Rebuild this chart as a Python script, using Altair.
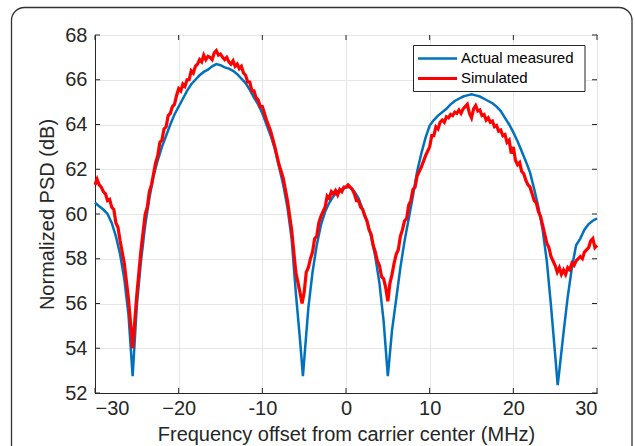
import altair as alt
import pandas as pd

# ---- data ----
blue_f = [-30, -29.5, -29, -28.5, -28, -27.5, -27, -26.5, -26, -25.5, -25, -24.5, -24, -23.5, -23,
          -22.5, -22, -21.5, -21, -20.5, -20, -19.5, -19, -18.5, -18, -17.5, -17, -16.5, -16, -15.5,
          -15, -14.5, -14, -13.5, -13, -12.5, -12, -11.5, -11, -10.5, -10, -9.5, -9, -8.5, -8, -7.5,
          -7, -6.5, -6, -5.5, -5.15, -4.5, -4, -3.5, -3, -2.5, -2, -1.5, -1, -0.5, 0, 0.5, 1, 1.5,
          2, 2.5, 3, 3.5, 4, 4.5, 5, 5.5, 6, 6.5, 7, 7.5, 8, 8.5, 9, 9.5, 10, 10.5, 11, 11.5, 12,
          12.5, 13, 13.5, 14, 14.5, 15, 15.5, 16, 16.5, 17, 17.5, 18, 18.5, 19, 19.5, 20, 20.5, 21,
          21.5, 22, 22.5, 23, 23.5, 24, 24.5, 25, 25.3, 25.5, 26, 26.5, 27, 27.5, 28, 28.5, 29,
          29.5, 30]
blue_v = [60.5, 60.35, 60.2, 60.0, 59.6, 59.0, 58.2, 57.1, 55.5, 52.75, 55.9, 57.9, 59.5, 60.7, 61.7,
          62.4, 63.0, 63.5, 64.0, 64.45, 64.8, 65.15, 65.5, 65.8, 66.0, 66.2, 66.35, 66.45, 66.6, 66.7,
          66.65, 66.55, 66.5, 66.4, 66.25, 66.05, 65.85, 65.55, 65.2, 64.9, 64.5, 64.0, 63.5, 62.9,
          62.1, 61.3, 60.3, 58.9, 56.5, 54.4, 52.75, 55.8, 57.4, 58.6, 59.5, 60.1, 60.5, 60.8, 61.0,
          61.1, 61.2, 61.2, 61.0, 60.7, 60.2, 59.7, 59.0, 58.1, 56.9, 55.2, 52.75, 54.8, 56.2, 57.6,
          58.8, 59.8, 60.8, 61.9, 62.7, 63.4, 63.95, 64.2, 64.4, 64.55, 64.7, 64.9, 65.05, 65.15,
          65.25, 65.3, 65.35, 65.3, 65.25, 65.15, 65.05, 64.95, 64.8, 64.6, 64.3, 64.0, 63.65, 63.25,
          62.8, 62.35, 61.85, 61.1, 60.3, 59.3, 57.9, 55.9, 53.7, 52.35, 53.0, 54.7, 56.3, 57.6,
          58.6, 58.9, 59.3, 59.55, 59.7, 59.8]

red_f = [-30, -29.75, -29.5, -29.25, -29, -28.75, -28.5, -28.25, -28, -27.75, -27.5, -27.25, -27,
         -26.5, -26, -25.5, -25, -24.5, -24, -23.75, -23.5, -23.25, -23, -22.75, -22.5, -22.25, -22,
         -21.75, -21.5, -21.25, -21, -20.75, -20.5, -20.25, -20, -19.75, -19.5, -19.25, -19, -18.75,
         -18.5, -18.25, -18, -17.75, -17.5, -17.25, -17, -16.75, -16.5, -16.25, -16, -15.75, -15.5,
         -15.25, -15, -14.75, -14.5, -14.25, -14, -13.75, -13.5, -13.25, -13, -12.75, -12.5, -12.25,
         -12, -11.75, -11.5, -11.25, -11, -10.75, -10.5, -10.25, -10, -9.5, -9, -8.5, -8, -7.5, -7,
         -6.5, -6, -5.5, -5.25, -5, -4.75, -4.5, -4.25, -4, -3.75, -3.5, -3.25, -3, -2.75, -2.5,
         -2.25, -2, -1.75, -1.5, -1.25, -1, -0.75, -0.5, -0.25, 0, 0.25, 0.5, 0.75, 1, 1.25, 1.5,
         1.75, 2, 2.25, 2.5, 2.75, 3, 3.25, 3.5, 3.75, 4, 4.25, 4.5, 4.75, 5, 5.25, 5.5, 5.75, 6,
         6.25, 6.5, 6.75, 7, 7.25, 7.5, 7.75, 8, 8.25, 8.5, 8.75, 9, 9.5, 10, 10.25, 10.5, 10.75, 11,
         11.25, 11.5, 11.75, 12, 12.25, 12.5, 12.75, 13, 13.25, 13.5, 13.75, 14, 14.25, 14.5, 14.75,
         15, 15.25, 15.5, 15.75, 16, 16.25, 16.5, 16.75, 17, 17.25, 17.5, 17.75, 18, 18.25, 18.5,
         18.75, 19, 19.25, 19.5, 19.75, 20, 20.25, 20.5, 20.75, 21, 21.25, 21.5, 21.75, 22, 22.25,
         22.5, 22.75, 23, 23.25, 23.5, 23.75, 24, 24.25, 24.5, 24.75, 25, 25.25, 25.5, 25.75, 26,
         26.25, 26.5, 26.75, 27, 27.25, 27.5, 27.75, 28, 28.25, 28.5, 28.75, 29, 29.25, 29.5, 29.75,
         30]
red_v = [61.3, 61.55, 61.3, 61.2, 61.0, 60.9, 60.6, 60.65, 60.3, 60.2, 59.6, 59.4, 58.8,
         57.8, 56.2, 54.0, 56.4, 58.4, 60.0, 60.3, 61.0, 61.3, 61.8, 62.3, 62.6, 63.2, 63.3,
         63.8, 63.9, 64.4, 64.5, 64.8, 64.9, 65.3, 65.6, 65.5, 65.8, 65.7, 66.0, 66.0,
         66.4, 66.3, 66.6, 66.7, 66.9, 66.8, 67.1, 66.9, 67.05, 67.0, 66.9, 67.2, 67.3,
         67.1, 67.15, 67.0, 66.9, 67.0, 66.8, 66.7, 66.85, 66.6, 66.7, 66.5, 66.6, 66.3,
         66.2, 65.9, 65.9, 65.5, 65.5, 65.2, 65.1, 64.8, 64.8, 64.2, 63.7, 63.0, 62.2, 61.6, 60.6,
         59.3, 57.4, 56.5, 56.0, 56.5, 57.4, 57.6, 58.0, 58.3, 58.9, 59.0, 59.6, 59.9, 60.1, 60.3,
         60.8, 60.7, 61.0, 60.9, 61.05, 60.85, 61.1, 61.0, 61.2, 61.2, 61.3, 61.2, 61.1, 60.9, 60.6, 60.6,
         60.3, 60.2, 59.9, 59.7, 59.3, 59.1, 58.6, 58.3, 57.9, 57.7, 57.2, 57.1, 56.7, 56.1, 56.9, 57.3, 57.8, 58.2,
         58.4, 59.0, 59.3, 59.7, 59.8, 60.4, 60.6, 61.1, 61.2, 61.7, 61.9, 62.1, 62.6, 63.0, 63.5, 63.5, 63.9, 63.8,
         64.1, 64.2, 64.1, 64.35, 64.3, 64.45, 64.4, 64.55, 64.5, 64.65, 64.5, 64.7, 64.8, 64.9, 64.5,
         64.3, 64.7, 64.85, 64.6, 64.65, 64.4, 64.45, 64.2, 64.3, 64.1, 64.15, 63.9, 63.95, 63.7, 63.75,
         63.5, 63.55, 63.2, 63.3, 62.7, 63.0, 62.4, 62.2, 62.3, 61.9, 61.8, 61.5, 61.3, 61.2, 60.9,
         60.6, 60.5, 60.1, 59.9, 59.5, 59.1, 58.7, 58.5, 58.1, 57.9, 57.7, 57.4, 57.6, 57.3, 57.5,
         57.3, 57.6, 57.5, 57.8, 57.7, 57.9, 58.0, 58.1, 58.0, 58.3, 58.4, 58.5, 58.8, 58.9, 58.5,
         58.6]

series_names = ["Actual measured", "Simulated"]
series_colors = ["#0072BD", "#FF0000"]
x_ticks = [-30, -20, -10, 0, 10, 20, 30]
y_ticks = [52, 54, 56, 58, 60, 62, 64, 66, 68]

FONT = "Liberation Sans"
TXT = "#262626"
GRID = "#e6e6e6"
W, H = 502, 358

df_blue = pd.DataFrame({"f": blue_f, "v": blue_v, "series": series_names[0]})
df_red = pd.DataFrame({"f": red_f, "v": red_v, "series": series_names[1]})
df_xt = pd.DataFrame({"f": x_ticks})
df_yt = pd.DataFrame({"v": y_ticks})
df_leg = pd.DataFrame({"series": series_names})

X_ENC = alt.X(
    "f:Q",
    scale=alt.Scale(domain=[-30, 30], nice=False, zero=False),
    axis=alt.Axis(
        values=x_ticks, title="Frequency offset from carrier center (MHz)",
        labelExpr="datum.value == -10 ? '-10' : datum.label",
        ticks=False, labelPadding=5, titlePadding=6,
        grid=True, gridColor=GRID, domainColor=TXT,
        labelFont=FONT, labelFontSize=20, labelColor=TXT,
        titleFont=FONT, titleFontSize=20, titleFontWeight="normal", titleColor=TXT,
    ),
)
Y_ENC = alt.Y(
    "v:Q",
    scale=alt.Scale(domain=[52, 68], nice=False, zero=False),
    axis=alt.Axis(
        values=y_ticks, title="Normalized PSD (dB)",
        ticks=False, labelPadding=8, titlePadding=7,
        grid=True, gridColor=GRID, domainColor=TXT,
        labelFont=FONT, labelFontSize=20, labelColor=TXT,
        titleFont=FONT, titleFontSize=20, titleFontWeight="normal", titleColor=TXT,
    ),
)
COLOR = alt.Color("series:N", scale=alt.Scale(domain=series_names, range=series_colors), legend=None)

blue = alt.Chart(df_blue).mark_line(strokeWidth=2.5).encode(x=X_ENC, y=Y_ENC, color=COLOR)
red = alt.Chart(df_red).mark_line(strokeWidth=3.2).encode(x=X_ENC, y=Y_ENC, color=COLOR)

xt_bot = alt.Chart(df_xt).mark_rule(color=TXT).encode(x=X_ENC, y=alt.value(H), y2=alt.value(H - 5))
xt_top = alt.Chart(df_xt).mark_rule(color=TXT).encode(x=X_ENC, y=alt.value(0), y2=alt.value(5))
yt_left = alt.Chart(df_yt).mark_rule(color=TXT).encode(y=Y_ENC, x=alt.value(0), x2=alt.value(5))
yt_right = alt.Chart(df_yt).mark_rule(color=TXT).encode(y=Y_ENC, x=alt.value(W), x2=alt.value(W - 5))

# legend (drawn by hand, MATLAB style)
leg_box = alt.Chart(df_leg.head(1)).mark_rect(fill="white", stroke=TXT, strokeWidth=1).encode(
    x=alt.value(318.5), x2=alt.value(490), y=alt.value(10.5), y2=alt.value(56.5))
leg_layers = [leg_box]
for i, name in enumerate(series_names):
    yy = 23.5 + 20 * i
    row = alt.Chart(df_leg).transform_filter(alt.datum.series == name)
    leg_layers.append(row.mark_rule(strokeWidth=2.5 if i == 0 else 3).encode(
        x=alt.value(323), x2=alt.value(362), y=alt.value(yy), color=COLOR))
    leg_layers.append(row.mark_text(align="left", baseline="middle", font=FONT, fontSize=15,
                                    color="black").encode(
        x=alt.value(366), y=alt.value(yy - 0.5), text="series:N"))

frame = alt.Chart(df_leg.head(1)).mark_rect(
    fillOpacity=0, stroke="#333333", strokeWidth=1.3, cornerRadius=13
).encode(x=alt.value(-83.5), x2=alt.value(537), y=alt.value(-27.5), y2=alt.value(440))

chart = alt.layer(blue, red, xt_bot, xt_top, yt_left, yt_right, *leg_layers, frame).properties(
    width=W, height=H,
    autosize=alt.AutoSizeParams(type="none"),
    padding={"left": 95, "top": 35, "right": 38, "bottom": 53},
    background="white",
).configure_view(stroke=TXT, strokeWidth=1)

chart.save("out.html", embed_options={"renderer": "svg", "actions": False})
